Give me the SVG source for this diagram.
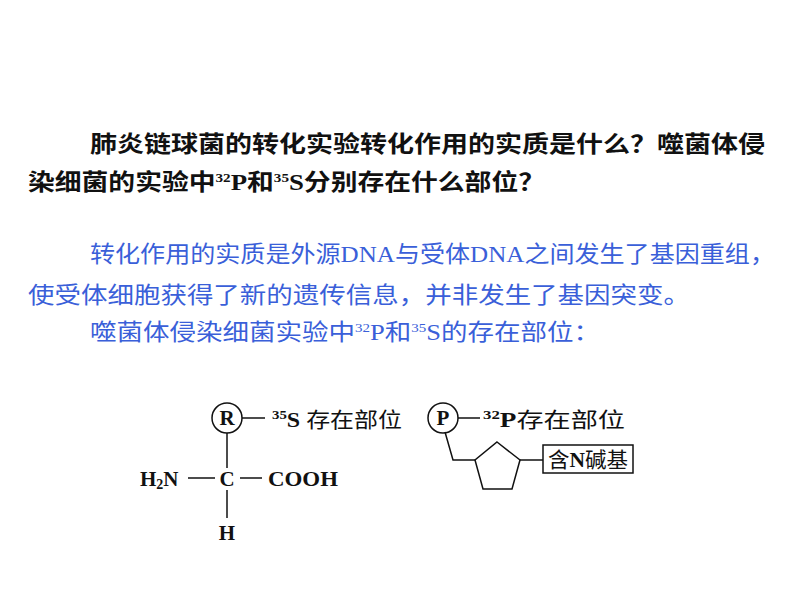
<svg xmlns="http://www.w3.org/2000/svg" width="800" height="600" viewBox="0 0 800 600">
<style>
.q{font-family:"Liberation Serif","Noto Sans CJK SC",serif;font-size:23px;font-weight:bold;fill:#111}
.a{font-family:"Liberation Serif","Noto Sans CJK SC",serif;font-size:23px;fill:#3a5fd9}
.f{font-family:"Liberation Serif","Noto Sans CJK SC",serif;font-size:21px;fill:#111}
.fb{font-weight:bold}
.ln{stroke:#111;stroke-width:1.5;fill:none}
</style>
<rect width="800" height="600" fill="#fff"/>
<text class="q" x="90" y="152" textLength="675" lengthAdjust="spacingAndGlyphs">肺炎链球菌的转化实验转化作用的实质是什么？噬菌体侵</text>
<text class="q" x="28" y="190" textLength="517" lengthAdjust="spacingAndGlyphs">染细菌的实验中<tspan font-size="13" dy="-8">32</tspan><tspan dy="8">P和</tspan><tspan font-size="13" dy="-8">35</tspan><tspan dy="8">S分别存在什么部位？</tspan></text>
<text class="a" x="90" y="262" textLength="685" lengthAdjust="spacingAndGlyphs">转化作用的实质是外源DNA与受体DNA之间发生了基因重组，</text>
<text class="a" x="28" y="303" textLength="662" lengthAdjust="spacingAndGlyphs">使受体细胞获得了新的遗传信息，并非发生了基因突变。</text>
<text class="a" x="90" y="340" textLength="510" lengthAdjust="spacingAndGlyphs">噬菌体侵染细菌实验中<tspan font-size="13" dy="-8">32</tspan><tspan dy="8">P和</tspan><tspan font-size="13" dy="-8">35</tspan><tspan dy="8">S的存在部位：</tspan></text>
<g id="amino">
<circle class="ln" cx="227" cy="418" r="15"/>
<text class="f fb" x="227" y="425" text-anchor="middle">R</text>
<line class="ln" x1="242" y1="418" x2="265" y2="418"/>
<text class="f" x="272" y="427" textLength="130" lengthAdjust="spacingAndGlyphs"><tspan font-size="13" dy="-8" font-weight="bold">35</tspan><tspan dy="8" font-weight="bold">S</tspan> 存在部位</text>
<line class="ln" x1="227" y1="433" x2="227" y2="468"/>
<text class="f fb" x="140" y="486">H<tspan font-size="14" dy="3">2</tspan><tspan dy="-3">N</tspan></text>
<line class="ln" x1="188" y1="478" x2="215" y2="478"/>
<text class="f fb" x="227" y="486" text-anchor="middle">C</text>
<line class="ln" x1="240" y1="478" x2="262" y2="478"/>
<text class="f fb" x="268" y="486" textLength="70" lengthAdjust="spacingAndGlyphs">COOH</text>
<line class="ln" x1="227" y1="490" x2="227" y2="518"/>
<text class="f fb" x="227" y="540" text-anchor="middle">H</text>
</g>
<g id="nucleotide">
<circle class="ln" cx="443" cy="418" r="15"/>
<text class="f fb" x="443" y="425" text-anchor="middle">P</text>
<line class="ln" x1="458" y1="418" x2="480" y2="418"/>
<text class="f" x="483" y="427" textLength="142" lengthAdjust="spacingAndGlyphs"><tspan font-size="13" dy="-8" font-weight="bold">32</tspan><tspan dy="8" font-weight="bold">P</tspan>存在部位</text>
<polyline class="ln" points="445,432 453,460 475,460"/>
<polygon class="ln" points="497,442 520,460 512,489 483,489 475,460"/>
<line class="ln" x1="520" y1="460" x2="543" y2="460"/>
<rect class="ln" x="543" y="445" width="90" height="28"/>
<text class="f" x="588" y="467" text-anchor="middle" textLength="80" lengthAdjust="spacingAndGlyphs">含<tspan font-weight="bold">N</tspan>碱基</text>
</g>
</svg>
